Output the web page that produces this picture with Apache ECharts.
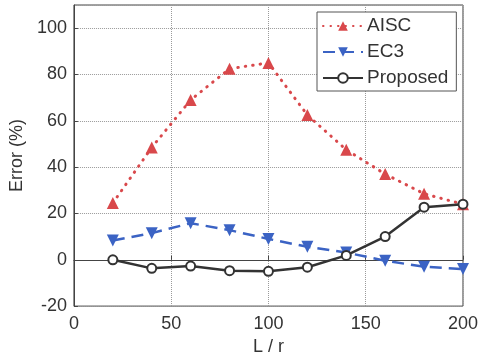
<!DOCTYPE html>
<html>
<head>
<meta charset="utf-8">
<script src="https://cdn.jsdelivr.net/npm/echarts@6/dist/echarts.min.js"></script>
<style>
  html, body { margin: 0; padding: 0; background: #fff; }
  #chart { width: 481px; height: 361px; }
</style>
</head>
<body>
<div id="chart"></div>
<script>
// L / r values
var slenderness = [20, 40, 60, 80, 100, 120, 140, 160, 180, 200]
// error (%) per method
var aisc = [24.5, 48.5, 69, 82.5, 85, 62.5, 47.5, 37, 28.5, 24]
var ec3 = [8.3, 11.5, 15.8, 12.8, 9, 5.6, 3.1, -0.4, -3, -4]
var proposed = [0, -3.7, -2.7, -4.7, -5, -3.2, 1.9, 10, 22.7, 24]

var fontColor = '#333'
var gridColor = '#9a9a9a'

function pairs(ys) {
  return slenderness.map(function (x, i) { return [x, ys[i]] })
}

var myChart = echarts.init(document.getElementById('chart'))

var option = {
  animation: false,
  textStyle: { fontFamily: 'Liberation Sans, Arial, sans-serif' },
  grid: {
    left: 71,
    right: 14,
    top: 5,
    bottom: 52,
    show: true,
    borderColor: '#444',
    borderWidth: 1
  },
  legend: {
    orient: 'vertical',
    left: 317,
    top: 12,
    padding: [4, 8, 3, 5],
    itemGap: 6,
    itemWidth: 40,
    itemHeight: 12,
    backgroundColor: '#fff',
    borderColor: '#555',
    borderWidth: 1,
    borderRadius: 0,
    textStyle: { fontSize: 19, color: fontColor, lineHeight: 20, padding: [0, 0, 0, -1] },
    data: ['AISC', 'EC3', 'Proposed']
  },
  xAxis: {
    type: 'value',
    min: 0,
    max: 200,
    interval: 50,
    name: 'L / r',
    nameLocation: 'middle',
    nameGap: 28,
    nameTextStyle: { fontSize: 18, color: fontColor },
    axisLine: { show: true, lineStyle: { color: '#444' } },
    axisTick: { show: true, inside: true, length: 4, lineStyle: { color: '#444' } },
    axisLabel: { fontSize: 18, color: fontColor, margin: 9 },
    splitLine: { show: true, lineStyle: { color: gridColor, type: 'dotted', width: 1 } }
  },
  yAxis: {
    type: 'value',
    min: -20,
    max: 110,
    interval: 20,
    name: 'Error (%)',
    nameLocation: 'middle',
    nameGap: 45,
    nameTextStyle: { fontSize: 18, color: fontColor },
    axisLine: { show: true, lineStyle: { color: '#444' } },
    axisTick: { show: true, inside: true, length: 4, lineStyle: { color: '#444' } },
    axisLabel: { fontSize: 18, color: fontColor, margin: 7, showMaxLabel: false },
    splitLine: { show: true, lineStyle: { color: gridColor, type: 'dotted', width: 1 } }
  },
  series: [
    {
      name: 'AISC',
      type: 'line',
      data: pairs(aisc),
      color: '#d9484b',
      symbol: 'triangle',
      symbolSize: 12,
      lineStyle: { width: 3, type: [0.5, 7], cap: 'round' },
      z: 2
    },
    {
      name: 'EC3',
      type: 'line',
      data: pairs(ec3),
      color: '#3b63c4',
      symbol: 'triangle',
      symbolRotate: 180,
      symbolSize: 12,
      lineStyle: { width: 2.5, type: [12, 7] },
      z: 3
    },
    {
      name: 'Proposed',
      type: 'line',
      data: pairs(proposed),
      color: '#333',
      symbol: 'emptyCircle',
      symbolSize: 9,
      itemStyle: { borderWidth: 2.5 },
      lineStyle: { width: 2.5 },
      z: 4
    }
  ]
}

myChart.setOption(option)
</script>
</body>
</html>
